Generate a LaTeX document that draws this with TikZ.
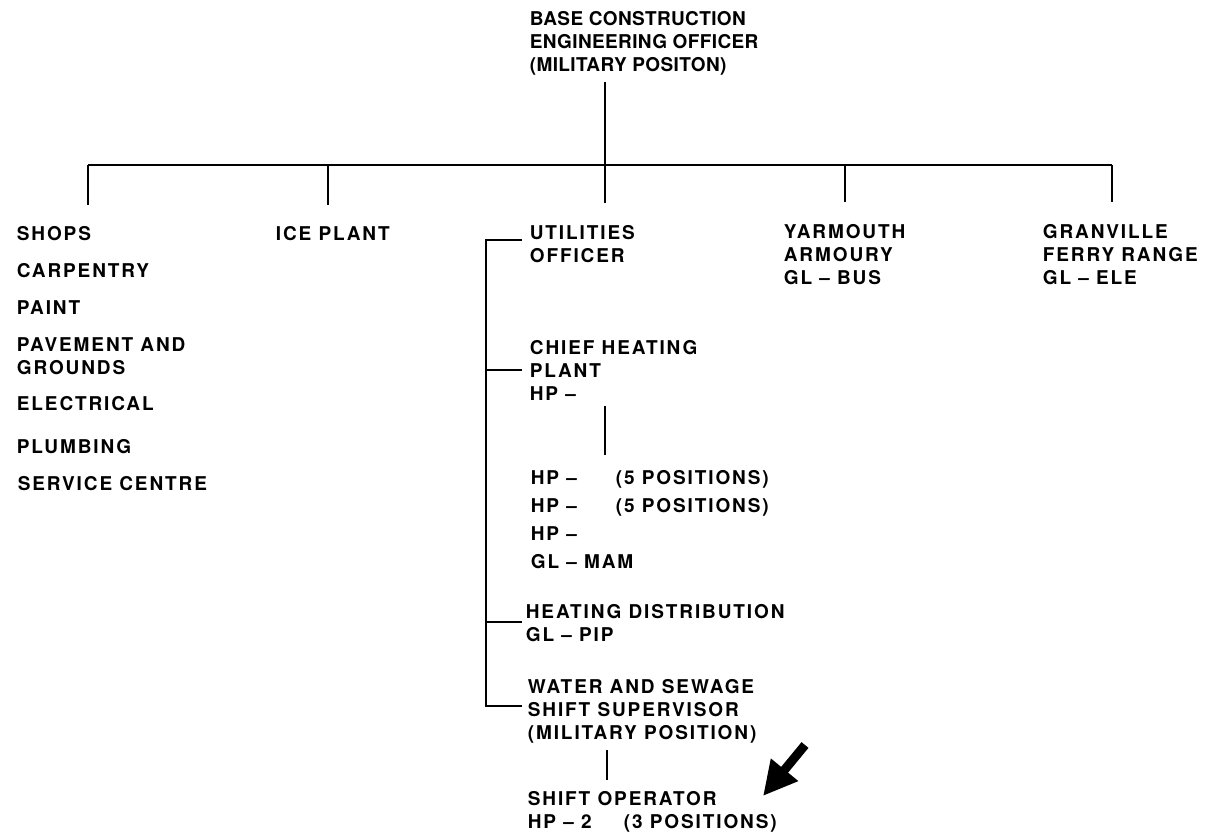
\documentclass[tikz,border=0pt]{standalone}
\usepackage{fontspec}
\setmainfont{TeX Gyre Heros}[LetterSpace=10]
\newfontfamily\topfont{TeX Gyre Heros}[LetterSpace=2]
\usetikzlibrary{arrows.meta}

\begin{document}
\begin{tikzpicture}[x=1pt,y=-1pt,line width=1.7pt,
		lbl/.style={anchor=north west,inner sep=0pt,align=left,
			font=\fontsize{19}{23}\selectfont\bfseries},
		toplbl/.style={lbl,font=\fontsize{19}{23}\selectfont\topfont\bfseries}]
	\useasboundingbox (0,0) rectangle (1205,833);
	% head of the chart
	\node[toplbl] (beceo) at (529,11) {BASE CONSTRUCTION\\ENGINEERING OFFICER\\(MILITARY POSITON)};
	% the five sections
	\foreach \nm/\x/\y/\txt in {shops/16/226/SHOPS, carp/16/263/CARPENTRY, paint/16/300/PAINT,
			pave/16/337/{PAVEMENT AND\\GROUNDS}, elec/16/396/ELECTRICAL, plumb/16/439/PLUMBING,
			serv/17/476/SERVICE CENTRE, ice/275/226/ICE PLANT, util/529/225/{UTILITIES\\OFFICER},
			yarm/783/224/{YARMOUTH\\ARMOURY\\GL -- BUS}, gran/1042/224/{GRANVILLE\\FERRY RANGE\\GL -- ELE}}
		\node[lbl] (\nm) at (\x,\y) {\txt};
	% under the utilities officer
	\node[lbl] (chief) at (529,340) {CHIEF HEATING\\PLANT\\HP --};
	\node[lbl,font=\fontsize{19}{28}\selectfont\bfseries] (hp) at (530,470)
		{\makebox[85pt][l]{HP --}(5 POSITIONS)\\\makebox[85pt][l]{HP --}(5 POSITIONS)\\HP --\\GL -- MAM};
	\node[lbl] (heat) at (525,604) {HEATING DISTRIBUTION\\GL -- PIP};
	\node[lbl] (water) at (527,679) {WATER AND SEWAGE\\SHIFT SUPERVISOR\\(MILITARY POSITION)};
	\node[lbl] (oper) at (527,791) {SHIFT OPERATOR\\\makebox[96pt][l]{HP -- 2}(3 POSITIONS)};
	% connectors
	\coordinate (top) at (605,82);
	\coordinate (bus) at (605,165);
	\draw (top) -- (bus);
	\draw (88,165) -- (1112,165);
	\foreach \x/\y in {88/205, 328/205, 605/203, 845/202, 1112/202}
		\draw (\x,165) -- (\x,\y);
	\coordinate (b1) at (486,240);
	\coordinate (b4) at (486,706);
	\draw (522,240) -- (b1) -- (b4) -- (522,706);
	\draw (b1 |- 0,370) -- (522,370) (b1 |- 0,622) -- (522,622);
	\draw (605,406) -- (605,455);
	\draw (607,750) -- (607,780);
	% pointer
	\coordinate (arrtail) at (805,745);
	\coordinate (arrtip) at (763,796);
	\draw[line width=9pt,-{Triangle[length=34pt,width=33pt]}] (arrtail) -- (arrtip);
\end{tikzpicture}
\end{document}
